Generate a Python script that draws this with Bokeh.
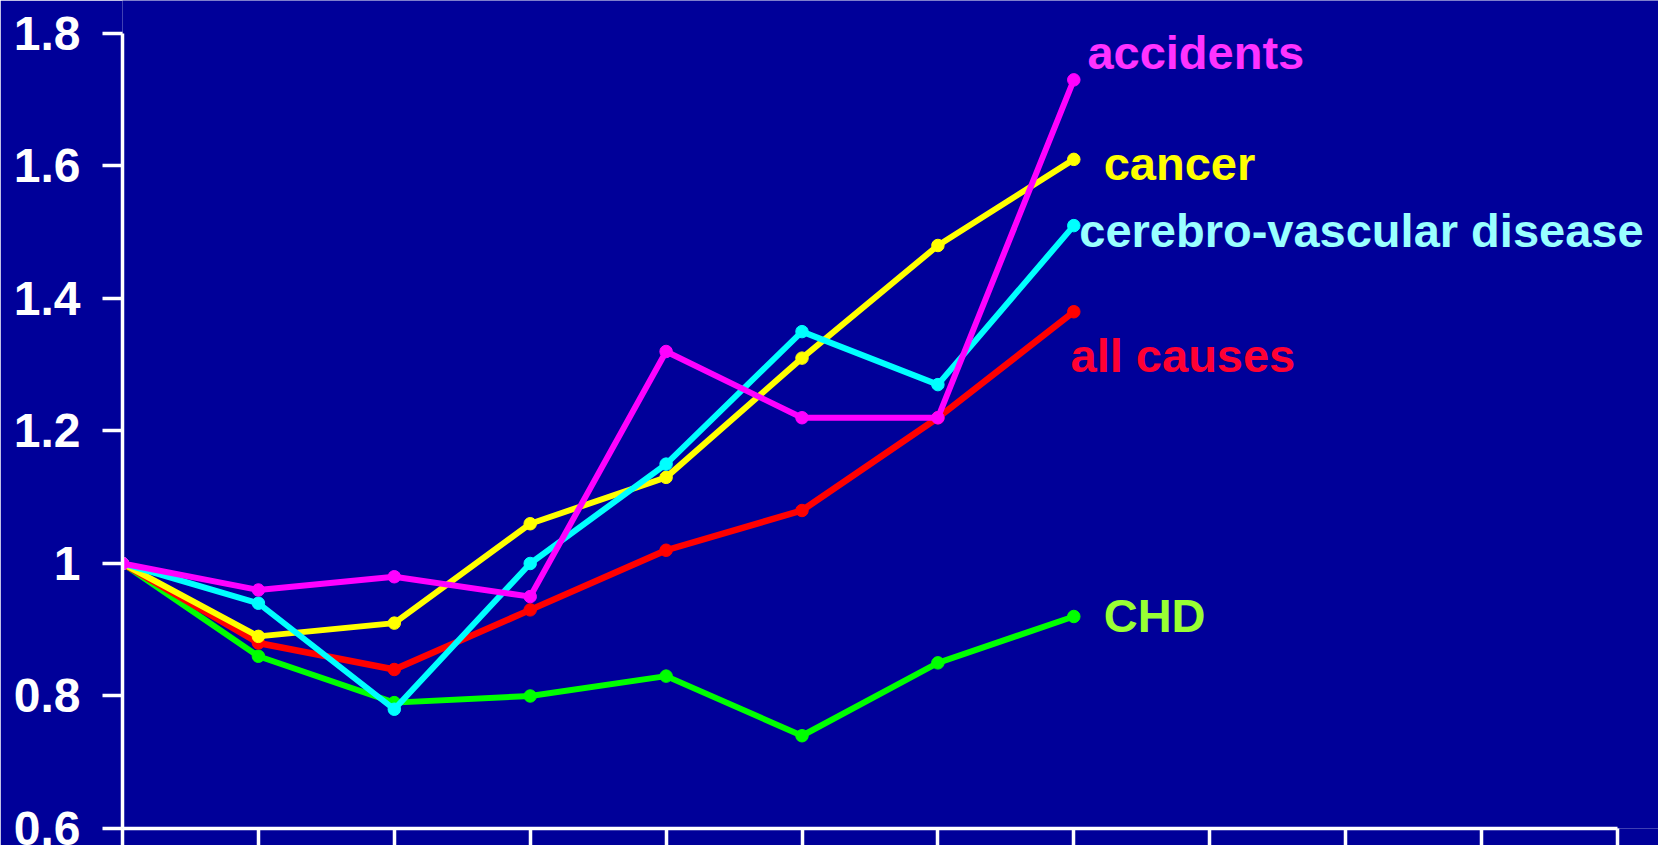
from bokeh.plotting import figure
from bokeh.models import Range1d, FixedTicker, ColumnDataSource
from bokeh.core.properties import value
from bokeh.embed import file_html
from bokeh.resources import INLINE

# ---- data ----
x_points = [0, 1, 2, 3, 4, 5, 6, 7]
all_causes = [1.0, 0.88, 0.84, 0.93, 1.02, 1.08, 1.22, 1.38]
cancer = [1.0, 0.89, 0.91, 1.06, 1.13, 1.31, 1.48, 1.61]
cvd = [1.0, 0.94, 0.78, 1.00, 1.15, 1.35, 1.27, 1.51]
accidents = [1.0, 0.96, 0.98, 0.95, 1.32, 1.22, 1.22, 1.73]
chd = [1.0, 0.86, 0.79, 0.80, 0.83, 0.74, 0.85, 0.92]

series_names = ["CHD", "all causes", "cancer", "cerebro-vascular disease", "accidents"]
y_ticks = [0.6, 0.8, 1.0, 1.2, 1.4, 1.6, 1.8]
y_tick_labels = ["0.6", "0.8", "1", "1.2", "1.4", "1.6", "1.8"]
x_ticks = [0, 1, 2, 3, 4, 5, 6, 7, 8, 9, 10, 11]

# label anchor positions (data units)
label_x = [7.22, 6.976, 7.22, 7.04, 7.10]
label_y = [0.9215, 1.314, 1.604, 1.5026, 1.771]
label_colors = ["#99FF33", "#FF0033", "#FFFF00", "#99FFFF", "#FF33FF"]
line_colors = ["#00FF00", "#FF0000", "#FFFF00", "#00FFFF", "#FF00FF"]
line_widths = [6, 6.5, 6, 6, 6]

BG = "#000099"
FONT = "Liberation Sans"

p = figure(width=1658, height=845, output_backend="svg", toolbar_location=None,
           x_range=Range1d(0, 11.3024), y_range=Range1d(0.6, 1.8498),
           min_border_left=122, min_border_right=0, min_border_top=0, min_border_bottom=17)
p.background_fill_color = BG
p.border_fill_color = BG
p.outline_line_color = None
p.xgrid.visible = False
p.ygrid.visible = False

# y axis
ya = p.yaxis[0]
ya.ticker = FixedTicker(ticks=y_ticks)
ya.major_label_overrides = {t: l for t, l in zip(y_ticks, y_tick_labels)}
ya.bounds = (0.6, 1.8)
ya.axis_line_color = "white"
ya.axis_line_width = 3.5
ya.major_tick_line_color = "white"
ya.major_tick_line_width = 3.5
ya.major_tick_in = 0
ya.major_tick_out = 20
ya.minor_tick_line_color = None
ya.major_label_standoff = 22
ya.major_label_text_color = "white"
ya.major_label_text_font = FONT
ya.major_label_text_font_style = "bold"
ya.major_label_text_font_size = "48px"

# x axis (ticks only, no labels)
xa = p.xaxis[0]
xa.ticker = FixedTicker(ticks=x_ticks)
xa.bounds = (0, 11)
xa.axis_line_color = "white"
xa.axis_line_width = 3.5
xa.major_tick_line_color = "white"
xa.major_tick_line_width = 3.5
xa.major_tick_in = 0
xa.major_tick_out = 17
xa.minor_tick_line_color = None
xa.major_label_standoff = 0
xa.major_label_text_color = None

all_series = [chd, all_causes, cancer, cvd, accidents]
for ys, c, w in zip(all_series, line_colors, line_widths):
    p.line(x_points, ys, line_color=c, line_width=w)
    p.scatter(x_points, ys, size=12.5, fill_color=c, line_color=c)

src = ColumnDataSource(dict(x=label_x, y=label_y, t=series_names, c=label_colors))
p.text(x="x", y="y", text="t", text_color="c", source=src,
       text_font=value(FONT), text_font_style="bold", text_font_size="47px",
       text_baseline="alphabetic", text_align="left")

open("out.html", "w").write(file_html(p, INLINE))
